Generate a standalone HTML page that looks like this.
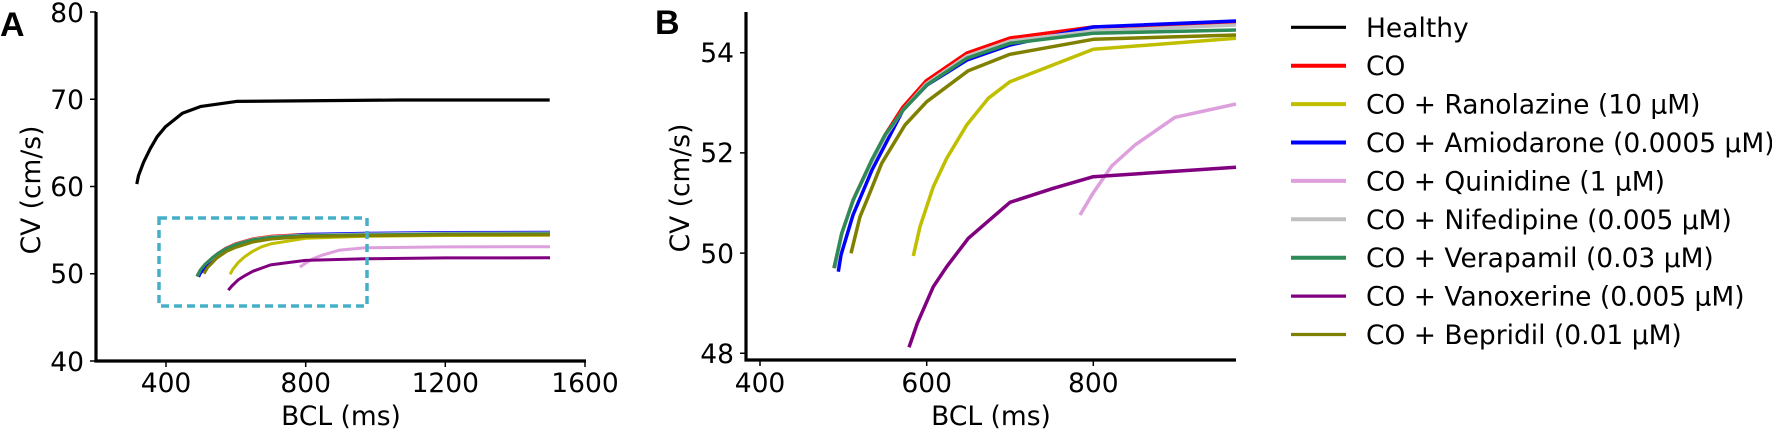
<!DOCTYPE html>
<html><head><meta charset="utf-8"><style>
html,body{margin:0;padding:0;background:#fff;}
svg{display:block;font-family:"DejaVu Sans","Liberation Sans",sans-serif;}
</style></head><body>
<svg id="s" width="1772" height="430" viewBox="0 0 1772 430" xmlns="http://www.w3.org/2000/svg">
<defs><clipPath id="cb"><rect x="747" y="8" width="490" height="352"/></clipPath></defs>
<g id="A"></g><g id="B" clip-path="url(#cb)"></g>
<g stroke="#000" stroke-width="3.2" fill="none">
<path d="M96,12 V361 H586"/>
<path d="M746,12 V360 H1236"/>
</g>
<g stroke="#000" stroke-width="1.5">
<path d="M90,12H96M90,99.25H96M90,186.5H96M90,273.75H96M90,361H96"/>
<path d="M166,361V367M305.7,361V367M445.3,361V367M585,361V367"/>
<path d="M740,52.7H746M740,152.9H746M740,253.1H746M740,353.3H746"/>
<path d="M760,360V366M926.7,360V366M1093.3,360V366"/>
</g>
<g font-size="26.5" fill="#000" text-anchor="end">
<text x="84" y="22">80</text><text x="84" y="109">70</text><text x="84" y="196">60</text><text x="84" y="283">50</text><text x="84" y="371">40</text>
<text x="734" y="62">54</text><text x="734" y="162">52</text><text x="734" y="263">50</text><text x="734" y="363">48</text>
</g>
<g font-size="26.5" fill="#000" text-anchor="middle">
<text x="166" y="392">400</text><text x="305.7" y="392">800</text><text x="445.3" y="392">1200</text><text x="585" y="392">1600</text>
<text x="760" y="392">400</text><text x="926.7" y="392">600</text><text x="1093.3" y="392">800</text>
<text x="341" y="425">BCL (ms)</text><text x="991" y="425">BCL (ms)</text>
<text transform="translate(40,190) rotate(-90)">CV (cm/s)</text>
<text transform="translate(689,188) rotate(-90)">CV (cm/s)</text>
</g>
<text x="0" y="36" font-size="34" font-weight="bold" font-family="Liberation Sans,sans-serif">A</text>
<text x="655" y="34" font-size="34" font-weight="bold" font-family="Liberation Sans,sans-serif">B</text>
<rect x="159" y="218" width="208" height="88" fill="none" stroke="#46afc8" stroke-width="3.5" stroke-dasharray="8,5"/>
<g id="L" font-size="26.5" fill="#000"></g>
</svg>
<script>
var NS="http://www.w3.org/2000/svg";
function bx(x){return 400+(x-760)/0.8333;} function by(y){return 48+(353.3-y)/50.1;}
function ax(b){return 96+(b-200)*0.3492;} function ay(c){return 361-(c-40)*8.725;}
var S=[
["#ff0000",[[834,268],[842,233],[853,200],[872,160],[885,135],[903,107],[926,81],[967,53],[1010,38],[1093,27],[1236,23]]],
["#bfbf00",[[913.3,256],[920,226.7],[933.3,186.7],[946.7,158.3],[966.7,125],[988.3,98.3],[1010,81.7],[1093.3,49.3],[1236,38.3]]],
["#0000ff",[[838.3,271.7],[841,255],[853,215],[872,170],[885,145],[903,110],[927,85],[967,60],[1010,45],[1093,27],[1236,21]]],
["#dda0dd",[[1080,215],[1093.3,192.7],[1111.7,166],[1135,145],[1175,117.3],[1236,104]]],
["#c0c0c0",[[835,268],[842,233],[853,200],[872,162],[885,137],[903,110],[926,84],[967,56],[1010,41],[1093,31],[1236,25]]],
["#2e8b57",[[834,268.3],[841.7,233.3],[853.3,200],[871.7,160],[885,135],[903.3,110],[926.7,85],[966.7,58.3],[1010,43.3],[1093.3,33.3],[1236,30]]],
["#800080",[[909,347.3],[917.3,323.3],[933.3,286.7],[946.7,266.7],[968.3,238.3],[1010,202.3],[1053.3,188.3],[1093.3,176.7],[1236,167.3]]],
["#808000",[[851,253.3],[860,216.7],[868.3,196.7],[881.7,163.3],[905,125],[926.7,101.7],[968.3,70.7],[1010,54.3],[1093.3,39.3],[1236,35]]]
];
function pl(g,pts,c,w){var p=document.createElementNS(NS,"polyline");p.setAttribute("points",pts.map(function(q){return q[0].toFixed(1)+","+q[1].toFixed(1)}).join(" "));p.setAttribute("fill","none");p.setAttribute("stroke",c);p.setAttribute("stroke-width",w);p.setAttribute("stroke-linejoin","round");document.getElementById(g).appendChild(p);}
S.forEach(function(s){
 pl("B",s[1],s[0],3.5);
 var a=s[1].map(function(q){return [ax(bx(q[0])),ay(by(q[1]))];});
 var last=by(s[1][s[1].length-1][1]);
 a.push([ax(1200),ay(last+0.1)]);a.push([ax(1500),ay(last+0.12)]);
 pl("A",a,s[0],3);
});
pl("A",[[136.8,184.1],[138.5,175.7],[143.6,162.2],[150.3,148.6],[157.1,136.8],[165.5,126.7],[182.4,113.2],[201,106.4],[236.5,101.4],[400,100],[549.7,100]],"#000",3.2);
var names=["Healthy","CO","CO + Ranolazine (10 μM)","CO + Amiodarone (0.0005 μM)","CO + Quinidine (1 μM)","CO + Nifedipine (0.005 μM)","CO + Verapamil (0.03 μM)","CO + Vanoxerine (0.005 μM)","CO + Bepridil (0.01 μM)"];
var cols=["#000","#ff0000","#bfbf00","#0000ff","#dda0dd","#c0c0c0","#2e8b57","#800080","#808000"];
var L=document.getElementById("L");
names.forEach(function(n,i){var y=27.3+i*38.4;
 var l=document.createElementNS(NS,"line");l.setAttribute("x1",1291);l.setAttribute("x2",1346);l.setAttribute("y1",y);l.setAttribute("y2",y);l.setAttribute("stroke",cols[i]);l.setAttribute("stroke-width",i==0||i==7||i==8?3.2:4);L.appendChild(l);
 var t=document.createElementNS(NS,"text");t.setAttribute("x",1366);t.setAttribute("y",y+9.5);t.textContent=n;L.appendChild(t);});
</script>
</body></html>
